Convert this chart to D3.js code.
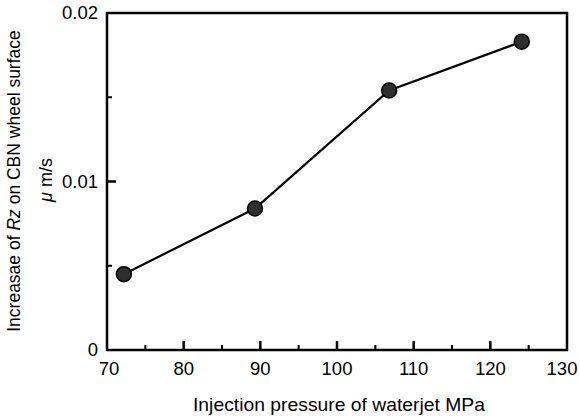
<!DOCTYPE html>
<html>
<head>
<meta charset="utf-8">
<script src="https://cdn.jsdelivr.net/npm/d3@7"></script>
<style>
  body { margin: 0; background: #fff; }
  text { font-family: "Liberation Sans", Arial, sans-serif; fill: #000; }
</style>
</head>
<body>
<div id="graph"></div>
<script>
let width = 580;
let height = 419;

// injection pressure (MPa) and increase of Rz (um/s)
let pressure = [72.2, 89.3, 106.8, 124.1];
let rzIncrease = [0.0045, 0.0084, 0.0154, 0.0183];

let xTicks = [70, 80, 90, 100, 110, 120, 130];
let xMinorTicks = [75, 85, 95, 105, 115, 125];
let yTicks = [0, 0.01, 0.02];
let yTickLabels = ["0", "0.01", "0.02"];
let yMinorTicks = [0.005, 0.015];

let margin = {top: 13, right: 13, bottom: 69, left: 107};

let x = d3.scaleLinear()
  .domain([70, 130])
  .range([margin.left, width - margin.right]);

let y = d3.scaleLinear()
  .domain([0, 0.02])
  .range([height - margin.bottom, margin.top]);

let svg = d3.select('#graph')
  .append('svg')
  .attr('width', width)
  .attr('height', height);

// frame
svg.append('rect')
  .attr('x', x(70))
  .attr('y', y(0.02))
  .attr('width', x(130) - x(70))
  .attr('height', y(0) - y(0.02))
  .attr('fill', 'none')
  .attr('stroke', '#000')
  .attr('stroke-width', 2.5);

// x axis, ticks pointing inward
let xAxis = svg.append('g')
  .attr('transform', 'translate(0,' + y(0) + ')');

xAxis.selectAll('.major')
  .data(xTicks.slice(1, -1))
  .enter()
  .append('line')
  .attr('x1', d => x(d)).attr('x2', d => x(d))
  .attr('y1', 0).attr('y2', -9)
  .attr('stroke', '#000').attr('stroke-width', 2.5);

xAxis.selectAll('.minor')
  .data(xMinorTicks)
  .enter()
  .append('line')
  .attr('x1', d => x(d)).attr('x2', d => x(d))
  .attr('y1', 0).attr('y2', -5)
  .attr('stroke', '#000').attr('stroke-width', 2);

// end labels sit a little inside, as in the original
xAxis.selectAll('text')
  .data(xTicks)
  .enter()
  .append('text')
  .attr('x', d => x(d) + (d == 130 ? -5 : d == 70 ? 2 : 0))
  .attr('y', 25)
  .attr('text-anchor', 'middle')
  .attr('font-size', 18.5)
  .text(d => d);

// y axis
let yAxis = svg.append('g')
  .attr('transform', 'translate(' + x(70) + ',0)');

yAxis.append('line')
  .attr('x1', 0).attr('x2', 9)
  .attr('y1', y(0.01)).attr('y2', y(0.01))
  .attr('stroke', '#000').attr('stroke-width', 2.5);

yAxis.selectAll('.minor')
  .data(yMinorTicks)
  .enter()
  .append('line')
  .attr('x1', 0).attr('x2', 5)
  .attr('y1', d => y(d)).attr('y2', d => y(d))
  .attr('stroke', '#000').attr('stroke-width', 2);

yAxis.selectAll('text')
  .data(yTicks)
  .enter()
  .append('text')
  .attr('x', -9)
  .attr('y', d => y(d) + 6)
  .attr('text-anchor', 'end')
  .attr('font-size', 18.5)
  .text((d, i) => yTickLabels[i]);

// data line and markers
let data = pressure.map((p, i) => ({p: p, v: rzIncrease[i]}));

svg.append('path')
  .datum(data)
  .attr('fill', 'none')
  .attr('stroke', '#000')
  .attr('stroke-width', 2.2)
  .attr('d', d3.line().x(d => x(d.p)).y(d => y(d.v)));

svg.selectAll('circle')
  .data(data)
  .enter()
  .append('circle')
  .attr('cx', d => x(d.p))
  .attr('cy', d => y(d.v))
  .attr('r', 7.5)
  .attr('fill', '#2e2e2e')
  .attr('stroke', '#000')
  .attr('stroke-width', 1.5);

// axis titles
svg.append('text')
  .attr('x', 339)
  .attr('y', 411)
  .attr('text-anchor', 'middle')
  .attr('font-size', 18.5)
  .attr('textLength', 292)
  .attr('lengthAdjust', 'spacingAndGlyphs')
  .text('Injection pressure of waterjet  MPa');

let yTitle = svg.append('text')
  .attr('transform', 'translate(20,181) rotate(-90)')
  .attr('text-anchor', 'middle')
  .attr('font-size', 17.5);
yTitle.append('tspan').text('Increasae of ');
yTitle.append('tspan').attr('font-style', 'italic').text('Rz');
yTitle.append('tspan').text(' on CBN wheel surface');

let unit = svg.append('text')
  .attr('transform', 'translate(52,180) rotate(-90)')
  .attr('text-anchor', 'middle')
  .attr('font-size', 18);
unit.append('tspan').attr('font-style', 'italic').text('\u03bc');
unit.append('tspan').text(' m/s');
</script>
</body>
</html>
